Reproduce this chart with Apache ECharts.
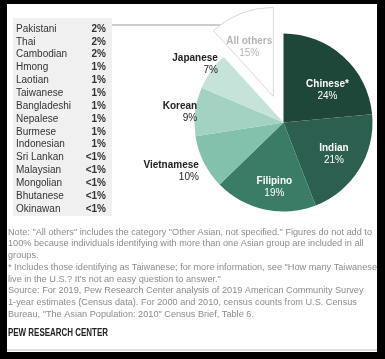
<!DOCTYPE html>
<html>
<head>
<meta charset="utf-8">
<script src="https://cdn.jsdelivr.net/npm/echarts@6/dist/echarts.min.js"></script>
<style>
  html, body { margin: 0; padding: 0; background: #000; }
  #main { width: 385px; height: 359px; }
</style>
</head>
<body>
<div id="main"></div>
<script>
  // pie, clockwise from 12 o'clock
  var groups = ['Chinese*', 'Indian', 'Filipino', 'Vietnamese', 'Korean', 'Japanese', 'All others'];
  var shares = [24, 21, 19, 10, 9, 7, 15];
  // wedge sizes as drawn in the picture (the "All others" wedge is drawn narrower than 15%)
  var wedgeSizes = [24, 21, 19, 10, 9, 7, 12];
  var colors = ['#1f4739', '#2c5f4f', '#3b7c67', '#84c1ad', '#a3d1c2', '#c5e3d9', '#ffffff'];

  // breakdown of "All others"
  var otherGroups = ['Pakistani', 'Thai', 'Cambodian', 'Hmong', 'Laotian', 'Taiwanese', 'Bangladeshi',
    'Nepalese', 'Burmese', 'Indonesian', 'Sri Lankan', 'Malaysian', 'Mongolian', 'Bhutanese', 'Okinawan'];
  var otherShares = ['2%', '2%', '2%', '1%', '1%', '1%', '1%', '1%', '1%', '1%', '<1%', '<1%', '<1%', '<1%', '<1%'];

  var notes = [
    'Note: "All others" includes the category "Other Asian, not specified." Figures do not add to',
    '100% because individuals identifying with more than one Asian group are included in all',
    'groups.',
    '* Includes those identifying as Taiwanese; for more information, see "How many Taiwanese',
    'live in the U.S.? It\'s not an easy question to answer."',
    'Source: For 2019, Pew Research Center analysis of 2019 American Community Survey',
    '1-year estimates (Census data). For 2000 and 2010, census counts from U.S. Census',
    'Bureau, "The Asian Population: 2010" Census Brief, Table 6.'
  ];
  var credit = 'PEW RESEARCH CENTER';

  var font = "'Liberation Sans', Arial, sans-serif";
  var noteSize = 9.5;

  // squeeze the notes so they span the width like the condensed original
  var ctx = document.createElement('canvas').getContext('2d');
  ctx.font = noteSize + 'px ' + font;
  var noteScale = Math.min(1, 364 / ctx.measureText(notes[0]).width);
  ctx.font = 'bold 10px ' + font;
  var creditScale = Math.min(1, 100 / ctx.measureText(credit).width);

  // label placement per slice
  var labelPos = ['inside', 'inside', 'inside', 'outside', 'outside', 'outside', 'inside'];
  var labelShift = [[12, 3], [10, 7], [1, 18], [0, 9], [7, 1], [12, -7], [-7, -5]];

  var chart = echarts.init(document.getElementById('main'), null, { renderer: 'canvas' });

  var pieData = groups.map(function (g, i) {
    var inside = labelPos[i] === 'inside';
    var txt = inside ? (i === 6 ? '#b5b5b5' : '#ffffff') : '#222';
    return {
      name: g,
      value: wedgeSizes[i],
      share: shares[i],
      selected: i === 6,
      itemStyle: i === 6 ? { color: '#fff', borderColor: '#d9d9d9', borderWidth: 1 } : { color: colors[i] },
      label: {
        position: labelPos[i],
        color: txt,
        rich: {
          n: { fontFamily: font, fontSize: 10, fontWeight: 'bold', color: txt, lineHeight: 12 },
          p: { fontFamily: font, fontSize: 10, color: txt, lineHeight: 12 }
        }
      }
    };
  });

  var graphics = [
    { type: 'rect', z: -10, shape: { x: 7, y: 4, width: 370, height: 348 }, style: { fill: '#fff' } },
    { type: 'rect', z: -9, shape: { x: 13, y: 18, width: 99, height: 198 }, style: { fill: '#f0f0f0' } },
    { type: 'line', shape: { x1: 112, y1: 25, x2: 224, y2: 25 }, style: { stroke: '#9a9a9a', lineWidth: 1 } },
    { type: 'circle', shape: { cx: 224, cy: 25, r: 2.3 }, style: { fill: '#111' } },
    { type: 'line', shape: { x1: 7, y1: 350, x2: 377, y2: 350 }, style: { stroke: '#bdbdbd', lineWidth: 1 } }
  ];

  otherGroups.forEach(function (g, i) {
    var y = 29 + i * 12.86;
    graphics.push({ type: 'text', x: 16, y: y, style: { text: g, fontFamily: font, fontSize: 10, fill: '#333', verticalAlign: 'middle' } });
    graphics.push({ type: 'text', x: 106, y: y, style: { text: otherShares[i], fontFamily: font, fontSize: 10, fontWeight: 'bold', fill: '#333', align: 'right', verticalAlign: 'middle' } });
  });

  notes.forEach(function (line, i) {
    graphics.push({
      type: 'text', x: 8, y: 232 + i * 11.75, scaleX: noteScale,
      style: { text: line, fontFamily: font, fontSize: noteSize, fill: '#8c8c8c', verticalAlign: 'middle' }
    });
  });
  graphics.push({ type: 'text', x: 8, y: 333, scaleX: creditScale, style: { text: credit, fontFamily: font, fontSize: 10, fontWeight: 'bold', fill: '#222', verticalAlign: 'middle' } });

  chart.setOption({
    backgroundColor: '#000',
    animation: false,
    graphic: { elements: graphics },
    series: [{
      type: 'pie',
      center: [283.5, 122.5],
      radius: 89,
      startAngle: 90,
      clockwise: true,
      selectedMode: 'single',
      selectedOffset: 28,
      avoidLabelOverlap: false,
      silent: true,
      label: {
        show: true,
        formatter: function (p) { return '{n|' + p.name + '}\n{p|' + p.data.share + '%}'; }
      },
      labelLine: { show: false, length: 0, length2: 0 },
      labelLayout: function (p) {
        var d = labelShift[p.dataIndex];
        return { dx: d[0], dy: d[1] };
      },
      emphasis: { disabled: true },
      data: pieData
    }]
  });
</script>
</body>
</html>
